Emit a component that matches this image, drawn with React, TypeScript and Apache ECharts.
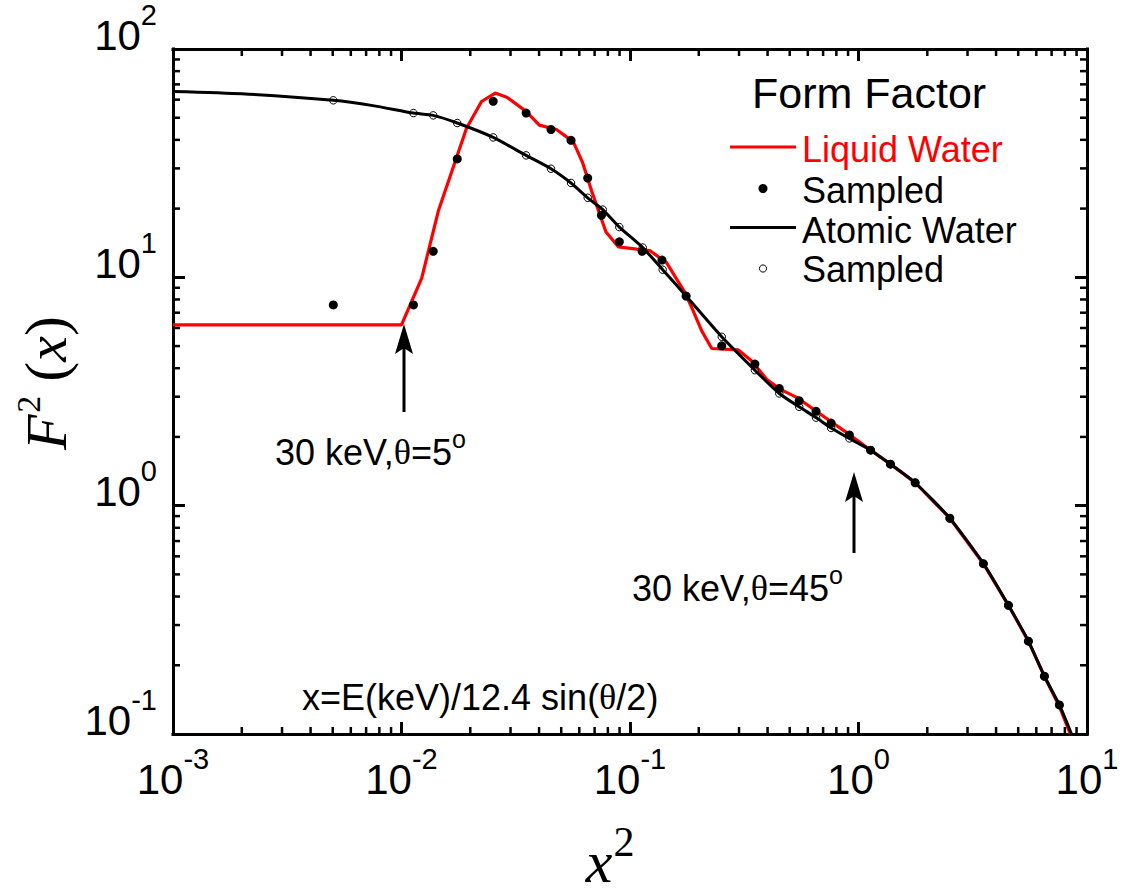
import React, { useEffect, useRef } from "react";
import * as echarts from "echarts";

const SANS = "'Liberation Sans', Arial, Helvetica, sans-serif";
const SERIF = "'Liberation Serif', 'Times New Roman', serif";

// Axis ranges (both logarithmic)
const X_MIN = 1e-3;
const X_MAX = 10;
const Y_MIN = 0.1;
const Y_MAX = 100;

// Liquid water form factor curve
const liquidX = [0.001, 0.01, 0.01226, 0.01449, 0.01927, 0.0224, 0.0257, 0.0289, 0.0351, 0.0401, 0.0477, 0.0565, 0.0621, 0.068, 0.0785, 0.0889, 0.107, 0.122, 0.1445, 0.174, 0.189, 0.206, 0.228, 0.298, 0.341, 0.396, 0.453, 0.536, 0.634, 0.751, 0.888, 1.13, 1.38, 1.77, 2.51, 3.52, 4.53, 5.54, 6.51, 7.57, 8.45];
const liquidY = [6.19, 6.19, 9.93, 19.5, 45.1, 58.9, 64.1, 61.5, 53.3, 46.4, 44.4, 39.2, 31.7, 23.8, 15.8, 13.6, 13.3, 13.1, 11.6, 8.57, 7.13, 5.83, 4.88, 4.81, 4.3, 3.58, 3.24, 2.98, 2.65, 2.35, 2.09, 1.75, 1.52, 1.26, 0.881, 0.557, 0.366, 0.255, 0.179, 0.132, 0.1];

// Samples drawn from the liquid water curve
const liquidSampleX = [0.00503, 0.01128, 0.01377, 0.01754, 0.0252, 0.0351, 0.0451, 0.0552, 0.0653, 0.075, 0.0898, 0.113, 0.138, 0.176, 0.252, 0.352, 0.45, 0.55, 0.652, 0.759, 0.912, 1.13, 1.38, 1.77, 2.51, 3.52, 4.53, 5.54, 6.51, 7.57];
const liquidSampleY = [7.57, 7.57, 13.0, 33.0, 59.0, 52.4, 44.4, 39.8, 27.2, 18.7, 14.3, 13.0, 11.9, 8.28, 5.01, 4.17, 3.26, 2.88, 2.59, 2.3, 2.04, 1.75, 1.52, 1.26, 0.881, 0.557, 0.366, 0.255, 0.179, 0.134];

// Atomic (independent atom) water form factor curve
const atomicX = [0.001, 0.002, 0.00503, 0.0075, 0.01128, 0.01377, 0.01754, 0.0252, 0.0351, 0.0451, 0.0552, 0.0653, 0.076, 0.0898, 0.1137, 0.139, 0.176, 0.252, 0.352, 0.45, 0.55, 0.652, 0.759, 0.912, 1.13, 1.38, 1.77, 2.51, 3.52, 4.53, 5.54, 6.51, 7.57, 8.55];
const atomicY = [65.2, 63.7, 59.6, 56.5, 52.4, 51.2, 47.4, 41.0, 34.2, 29.9, 25.9, 22.3, 19.8, 16.6, 13.5, 10.8, 8.28, 5.49, 3.92, 3.1, 2.71, 2.43, 2.19, 1.97, 1.75, 1.52, 1.26, 0.881, 0.557, 0.366, 0.255, 0.179, 0.134, 0.1];

// Samples drawn from the atomic water curve
const atomicSampleX = [0.00503, 0.01128, 0.01377, 0.01754, 0.0252, 0.0351, 0.0451, 0.0552, 0.0653, 0.076, 0.0898, 0.1137, 0.139, 0.176, 0.252, 0.352, 0.45, 0.55, 0.652, 0.759, 0.912, 1.13, 1.38, 1.77, 2.51, 3.52, 4.53, 5.54, 6.51, 7.57];
const atomicSampleY = [59.6, 52.4, 51.2, 47.4, 41.0, 34.2, 29.9, 25.9, 22.3, 19.8, 16.6, 13.5, 10.8, 8.28, 5.49, 3.92, 3.1, 2.71, 2.43, 2.19, 1.97, 1.75, 1.52, 1.26, 0.881, 0.557, 0.366, 0.255, 0.179, 0.134];

const pairs = (xs: number[], ys: number[]) => xs.map((x, i) => [x, ys[i]]);

// 2..9 times each decade between 10^lo and 10^hi
function minorValues(lo: number, hi: number): number[] {
  const out: number[] = [];
  for (let e = lo; e < hi; e++) {
    for (let k = 2; k <= 9; k++) out.push(k * Math.pow(10, e));
  }
  return out;
}

const powerLabel = (v: number) => `{b|10}{e|${Math.round(Math.log10(v))}}`;

const tickRich = {
  b: { fontFamily: SANS, fontSize: 42, lineHeight: 56, verticalAlign: "bottom", color: "#000" },
  e: { fontFamily: SANS, fontSize: 29, lineHeight: 29, verticalAlign: "top", color: "#000" },
};

function logAxis(position: string, min: number, max: number, labels: any) {
  return {
    type: "log",
    logBase: 10,
    position,
    min,
    max,
    axisLine: { show: true, lineStyle: { color: "#000", width: 3, cap: "square" } },
    axisTick: { show: true, inside: true, length: 12, lineStyle: { color: "#000", width: 3 } },
    minorTick: { show: false },
    splitLine: { show: false },
    axisLabel: labels,
  };
}

const annotationRich = {
  t: { fontFamily: SANS, fontSize: 36, lineHeight: 44, verticalAlign: "bottom", color: "#000" },
  h: { fontFamily: SERIF, fontSize: 36, lineHeight: 44, verticalAlign: "bottom", color: "#000" },
  o: { fontFamily: SANS, fontSize: 25, lineHeight: 34, verticalAlign: "top", color: "#000" },
};

export default function App() {
  const ref = useRef<HTMLDivElement>(null);

  useEffect(() => {
    if (!ref.current) return;
    const chart = echarts.init(ref.current, undefined, { renderer: "svg" });

    const tickStyle = { stroke: "#000", lineWidth: 2.5 };
    const MINOR = 7;

    const option: any = {
      animation: false,
      backgroundColor: "#fff",
      grid: { left: 173, top: 47.5, right: 36, bottom: 162, containLabel: false },
      xAxis: [
        logAxis("bottom", X_MIN, X_MAX, {
          show: true,
          formatter: powerLabel,
          margin: 10,
          rich: tickRich,
          showMinLabel: true,
          showMaxLabel: true,
        }),
        logAxis("top", X_MIN, X_MAX, { show: false }),
      ],
      yAxis: [
        logAxis("left", Y_MIN, Y_MAX, {
          show: true,
          formatter: powerLabel,
          margin: 16,
          padding: [0, 0, 42, 0],
          rich: tickRich,
          showMinLabel: true,
          showMaxLabel: true,
        }),
        logAxis("right", Y_MIN, Y_MAX, { show: false }),
      ],
      series: [
        {
          name: "Liquid Water",
          type: "line",
          data: pairs(liquidX, liquidY),
          showSymbol: false,
          symbol: "none",
          lineStyle: { color: "#ff0000", width: 3.2 },
          z: 2,
        },
        {
          name: "Sampled",
          type: "scatter",
          data: pairs(liquidSampleX, liquidSampleY),
          symbol: "circle",
          symbolSize: 9,
          itemStyle: { color: "#000", opacity: 1 },
          z: 3,
        },
        {
          name: "Atomic Water",
          type: "line",
          data: pairs(atomicX, atomicY),
          showSymbol: false,
          symbol: "none",
          smooth: 0.2,
          lineStyle: { color: "#000", width: 3 },
          z: 4,
        },
        {
          name: "Sampled",
          type: "scatter",
          data: pairs(atomicSampleX, atomicSampleY),
          symbol: "circle",
          symbolSize: 7.5,
          itemStyle: { color: "rgba(255,255,255,0)", borderColor: "#000", borderWidth: 1, opacity: 1 },
          z: 5,
        },
        // minor ticks of the x axes (bottom and top)
        {
          type: "custom",
          silent: true,
          clip: false,
          z: 6,
          data: minorValues(-3, 1).map((v) => [v, Y_MIN]),
          renderItem: (params: any, api: any) => {
            const cs = params.coordSys;
            const x = api.coord([api.value(0), Y_MIN])[0];
            const bottom = cs.y + cs.height;
            const top = cs.y;
            return {
              type: "group",
              children: [
                { type: "line", shape: { x1: x, y1: bottom, x2: x, y2: bottom - MINOR }, style: tickStyle },
                { type: "line", shape: { x1: x, y1: top, x2: x, y2: top + MINOR }, style: tickStyle },
              ],
            };
          },
        },
        // minor ticks of the y axes (left and right)
        {
          type: "custom",
          silent: true,
          clip: false,
          z: 6,
          data: minorValues(-1, 2).map((v) => [X_MIN, v]),
          renderItem: (params: any, api: any) => {
            const cs = params.coordSys;
            const y = api.coord([X_MIN, api.value(1)])[1];
            const left = cs.x;
            const right = cs.x + cs.width;
            return {
              type: "group",
              children: [
                { type: "line", shape: { x1: left, y1: y, x2: left + MINOR, y2: y }, style: tickStyle },
                { type: "line", shape: { x1: right, y1: y, x2: right - MINOR, y2: y }, style: tickStyle },
              ],
            };
          },
        },
      ],
      graphic: [
        // y axis title F^2(x)
        {
          type: "text",
          x: 46,
          y: 383,
          rotation: Math.PI / 2,
          style: {
            text: "{i|F}{s|2}{p|(}{i|x}{p|)}",
            align: "center",
            verticalAlign: "middle",
            rich: {
              i: { fontFamily: SERIF, fontStyle: "italic", fontSize: 58, lineHeight: 70, color: "#000" },
              p: { fontFamily: SERIF, fontSize: 60, lineHeight: 70, color: "#000" },
              s: { fontFamily: SERIF, fontSize: 34, lineHeight: 34, verticalAlign: "top", padding: [0, 14, 0, 2], color: "#000" },
            },
          },
        },
        // x axis title x^2
        {
          type: "text",
          x: 599,
          y: 862,
          style: {
            text: "x",
            fontFamily: SERIF,
            fontStyle: "italic",
            fontSize: 60,
            fill: "#000",
            align: "center",
            verticalAlign: "middle",
          },
        },
        {
          type: "text",
          x: 624,
          y: 842,
          style: { text: "2", fontFamily: SERIF, fontSize: 42, fill: "#000", align: "center", verticalAlign: "middle" },
        },
        // legend
        {
          type: "text",
          x: 752,
          y: 93,
          style: { text: "Form Factor", fontFamily: SANS, fontSize: 43, fill: "#000", align: "left", verticalAlign: "middle" },
        },
        { type: "line", shape: { x1: 730, y1: 147, x2: 796, y2: 147 }, style: { stroke: "#ff0000", lineWidth: 3.2 } },
        {
          type: "text",
          x: 802,
          y: 149,
          style: { text: "Liquid Water", fontFamily: SANS, fontSize: 36, fill: "#ff0000", align: "left", verticalAlign: "middle" },
        },
        { type: "circle", shape: { cx: 763, cy: 188.5, r: 4.5 }, style: { fill: "#000" } },
        {
          type: "text",
          x: 802,
          y: 190,
          style: { text: "Sampled", fontFamily: SANS, fontSize: 36, fill: "#000", align: "left", verticalAlign: "middle" },
        },
        { type: "line", shape: { x1: 730, y1: 227.5, x2: 796, y2: 227.5 }, style: { stroke: "#000", lineWidth: 3 } },
        {
          type: "text",
          x: 802,
          y: 230,
          style: { text: "Atomic Water", fontFamily: SANS, fontSize: 36, fill: "#000", align: "left", verticalAlign: "middle" },
        },
        { type: "circle", shape: { cx: 763, cy: 268.5, r: 3.6 }, style: { fill: "#fff", stroke: "#000", lineWidth: 1 } },
        {
          type: "text",
          x: 802,
          y: 269,
          style: { text: "Sampled", fontFamily: SANS, fontSize: 36, fill: "#000", align: "left", verticalAlign: "middle" },
        },
        // annotation: 30 keV, theta = 5 deg
        { type: "line", shape: { x1: 404, y1: 412, x2: 404, y2: 346 }, style: { stroke: "#000", lineWidth: 3 } },
        { type: "polygon", shape: { points: [[404, 324], [395, 354], [404, 348], [413, 354]] }, style: { fill: "#000" } },
        {
          type: "text",
          x: 275,
          y: 426,
          style: { text: "{t|30 keV,}{h|θ}{t|=5}{o|o}", align: "left", verticalAlign: "top", rich: annotationRich },
        },
        // annotation: 30 keV, theta = 45 deg
        { type: "line", shape: { x1: 854, y1: 553, x2: 854, y2: 494 }, style: { stroke: "#000", lineWidth: 3 } },
        { type: "polygon", shape: { points: [[854, 472], [845, 502], [854, 496], [863, 502]] }, style: { fill: "#000" } },
        {
          type: "text",
          x: 632,
          y: 562,
          style: { text: "{t|30 keV,}{h|θ}{t|=45}{o|o}", align: "left", verticalAlign: "top", rich: annotationRich },
        },
        // definition of x
        {
          type: "text",
          x: 302,
          y: 697,
          style: {
            text: "{t|x=E(keV)/12.4 sin(}{h|θ}{t|/2)}",
            align: "left",
            verticalAlign: "middle",
            rich: {
              t: { fontFamily: SANS, fontSize: 36, color: "#000" },
              h: { fontFamily: SERIF, fontSize: 36, color: "#000" },
            },
          },
        },
      ],
    };

    chart.setOption(option);
    return () => chart.dispose();
  }, []);

  return (
    <div
      ref={ref}
      style={{ position: "fixed", left: 0, top: 0, width: 1123, height: 896, background: "#fff" }}
    />
  );
}
